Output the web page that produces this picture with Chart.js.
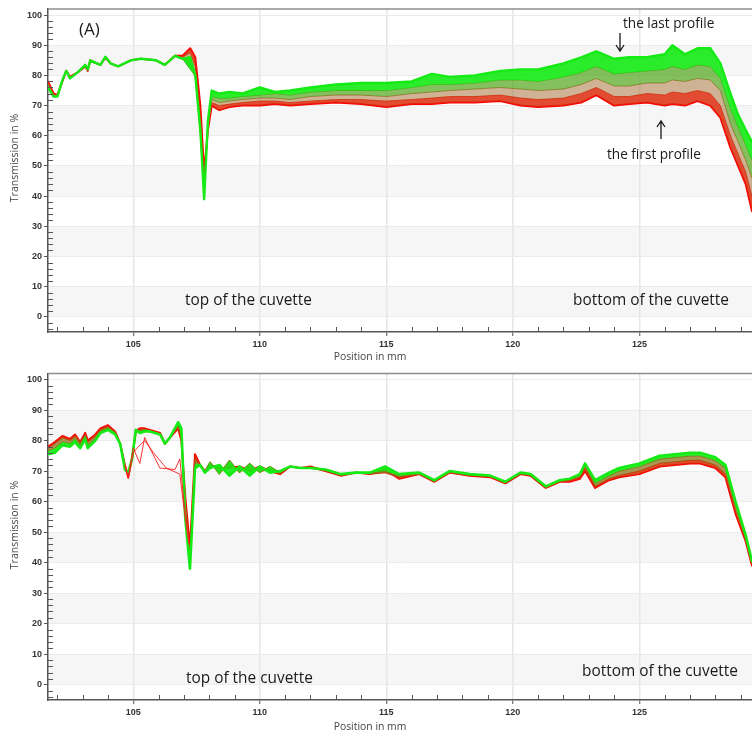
<!DOCTYPE html>
<html>
<head>
<meta charset="utf-8">
<title>Transmission profiles</title>
<script src="https://cdn.jsdelivr.net/npm/chart.js@4.4.1/dist/chart.umd.min.js"></script>
<style>
  html, body { margin: 0; padding: 0; background: #ffffff; }
  .panel { position: absolute; left: 0; width: 752px; height: 366px; }
  #panelA { top: 0; }
  #panelB { top: 366px; }
</style>
</head>
<body>
<div class="panel" id="panelA"><canvas id="chartA"></canvas></div>
<div class="panel" id="panelB"><canvas id="chartB"></canvas></div>
<script>
// ---- axis ticks ----
const Y_TICKS = [0, 10, 20, 30, 40, 50, 60, 70, 80, 90, 100];
const X_TICKS = [105, 110, 115, 120, 125];
const SHADED_BANDS = [[0, 10], [20, 30], [40, 50], [60, 70], [80, 90]];

// ---- panel (A): positions in mm and transmission in % ----
const posA = [101.63,101.85,102.0,102.2,102.35,102.5,102.8,103.1,103.2,103.3,
  103.7,103.9,104.1,104.4,104.9,105.3,105.9,106.25,106.65,106.95,
  107.25,107.45,107.65,107.8,107.95,108.1,108.4,108.8,109.3,110.0,
  110.6,111.2,112.0,113.0,114.0,115.0,116.0,116.8,117.5,118.5,
  119.5,120.3,121.0,122.0,122.7,123.3,124.0,124.6,125.3,126.0,
  126.3,126.8,127.3,127.8,128.2,128.6,128.9,129.2,129.45];

// first profile (red)
const profileA1 = [78,74,73.5,78,81.5,79.5,81,83,81.5,85,
  83.5,86,84,83,85,85.5,85,83.5,86.5,86.5,
  89,86,70,48,62,70,68.5,69.5,70,70,
  70.5,70,70.5,71,70.5,69.5,70.5,70.5,71,71,
  71.5,70,69.5,70,71,73.5,70,70.5,71,70,
  70.5,70,71.5,70,66,56,50,44,35];
const profileA2 = [77.5,73.5,73.5,78,81.5,79.5,81,83,81.5,85,
  83.5,85.5,84,83,85,85.5,85,83.5,86.5,86,
  87.5,83,66,45,62,71,70,70.5,71,71.5,
  71.5,71,71.5,72,72,71.5,72,72.5,73,73,
  73.5,72.5,72,72.5,74,76,73,73,74,73.5,
  74.5,74,75,74,70,60,54,48,40];
const profileA3 = [77,73,73,78,81,79,81,83,82,84.5,
  83.5,86,84,83,85,85.5,85,83.5,86.5,85.5,
  84,79,62,43,63,72,71,71.5,72,72.5,
  72.5,72,73,73.5,73.5,73,74,74.5,75,75.5,
  76,75.5,75,75.5,77,79,76.5,76.5,77.5,77.5,
  78.5,78,79,78.5,75,64,58,52,46];
const profileA4 = [76.5,73,73,78,81.5,79,81,83,82,84.5,
  83.5,86,84,83,85,85.5,85,83.5,86.5,85.5,
  82,80,60,41,64,73,72.5,72.5,73,73.5,
  74,73.5,74.5,75,75,75,76,77,77,77.5,
  78.5,78.5,78,79.5,81,83,80.5,81,81.5,82,
  83,82,83.5,83,79,69,63,57,52];
// last profile (green)
const profileA5 = [76,73,73,78.5,81.5,79,81,83.5,82,85,
  83.5,86.2,84,83,85,85.5,85,83.5,86.5,85.5,
  86,80,62,39,65,75,74,74.5,74,76,
  74.5,75,76,77,77.5,77.5,78,80.5,79.5,80,
  81.5,82,82,84,86,88,85.5,86,86,87,
  90,87,89,89,84,74,67,62,58];

// ---- panel (B) ----
const posB = [101.63,101.9,102.2,102.5,102.7,102.9,103.1,103.2,103.5,103.7,
  104.0,104.28,104.48,104.67,104.8,104.95,105.1,105.26,105.45,105.66,
  106.06,106.25,106.45,106.77,106.9,107.05,107.24,107.44,107.64,107.83,
  108.03,108.4,108.8,109.2,109.6,110.0,110.4,110.8,111.2,111.6,
  112.0,112.6,113.2,113.8,114.35,114.95,115.5,116.3,116.9,117.5,
  118.3,119.1,119.7,120.3,120.7,121.3,121.85,122.25,122.65,122.85,
  123.25,123.8,124.2,125.0,125.8,126.4,127.0,127.4,128.0,128.4,
  128.8,129.2,129.45];

const profileB1 = [78,79.5,81.5,80.5,82,79.5,82.5,80,82,84,
  85,83,79,72,68,74,83,84,84,83.5,
  82.5,79,81,84,80,62,45,75.5,72,70,
  72,71,71,71.5,70,71.5,70,69,71.5,71,
  71.5,70,68.5,69.5,69,70.5,67.5,69,66.5,69.5,
  68.5,68,66,69,68.5,64.5,66.5,66.5,67.5,70,
  64.5,67,68,69,71.5,72,72.5,72.5,71,68,
  56,47,39];
const profileB2 = [77.5,79,81,80,81.5,79.5,82,79.5,81.5,83.5,
  84.5,83,79,72,68.5,74,83,83.5,83.5,83,
  82,79,81,84.5,81,60,43,74,72,70,
  72,70.5,72,70.5,71.5,70,70.5,69,71.5,71,
  71,70,68.5,69.5,69,69.5,68,69,66.5,69.5,
  68.5,68.5,66,69.5,68.5,64.5,66.5,67,68,71,
  65,67.5,68.5,70,72.5,73,73.5,73.5,72,69,
  57,47.5,39.5];
const profileB3 = [76.5,77.5,79.5,79,80.5,78.5,81.5,78.5,80.5,83,
  84,82.5,79,71,69,74,83,83,83.5,83,
  82,79,81,85,82,58,40,72.5,72,70,
  73,69,73.5,69.5,72.5,69.5,71.5,69.5,71.5,71,
  71,70.5,69,69.5,69.5,70,68.5,69.5,67,70,
  69,68.5,66.5,69.5,69,65,67,67.5,68.5,72,
  66,68.5,70,71.5,74,74.5,75,75,73.5,71,
  59,48.5,40];
const profileB4 = [75.5,76,78.5,78,79.5,77.5,80.5,77.5,80,82.5,
  83.5,82,79,70.5,69.5,74,83.5,82.5,83,83,
  82,79,81,86,84,55,38,71,72,69.5,
  71,72,68.5,71.5,68.5,71.5,69.5,70,71.5,71,
  71,70.5,69,69.5,69.5,71.5,69,69.5,67,70,
  69,68.5,66.5,69.5,69,65,67,67.5,69,72.5,
  67,69.5,71,72.5,75,75.5,76,76,74.5,72,
  60,49,40.5];

// two early profiles that stray below the bundle between 105 and 107 mm
const strayPos1 = [104.67,104.8,105.0,105.26,105.45,106.05,106.65,106.84,107.0,107.2];
const strayVal1 = [72,68,77.5,72.5,81,71,70.5,74,60,47];
const strayPos2 = [104.67,104.8,105.0,105.2,105.45,105.8,106.3,106.84,107.0,107.2];
const strayVal2 = [72,67.5,76,78,80,76,71,69,58,46];

// ---- helpers ----
function toPoints(xs, ys) { return xs.map((x, i) => ({ x: x, y: ys[i] })); }
function rgba(c, a) { return 'rgba(' + c[0] + ',' + c[1] + ',' + c[2] + ',' + a + ')'; }

function bundle(pos, profiles, colours, alphas, widths) {
  const n = profiles.length;
  return profiles.map((vals, i) => ({
    data: toPoints(pos, vals),
    borderColor: rgba(colours[i], 1),
    backgroundColor: rgba(colours[i], alphas[i]),
    borderWidth: widths[i],
    fill: i === 0 ? false : '-1',
    order: n - 1 - i,
    pointRadius: 0,
    tension: 0
  }));
}

// background bands, inner minor ticks, frame line and text labels
const decor = {
  id: 'decor',
  beforeDraw(chart) {
    const { ctx, chartArea: a, scales: { y } } = chart;
    ctx.save();
    ctx.fillStyle = '#f6f6f6';
    for (const [lo, hi] of SHADED_BANDS) {
      const t = y.getPixelForValue(hi), b = y.getPixelForValue(lo);
      ctx.fillRect(a.left, t, a.right - a.left, b - t);
    }
    ctx.restore();
  },
  afterDraw(chart, args, o) {
    const { ctx, chartArea: a, scales: { x, y } } = chart;
    ctx.save();
    ctx.strokeStyle = '#8c8c8c';
    ctx.lineWidth = 1.5;
    ctx.beginPath();
    ctx.moveTo(a.left, a.top); ctx.lineTo(a.right, a.top);
    ctx.stroke();

    ctx.strokeStyle = '#555555';
    ctx.lineWidth = 1;
    ctx.beginPath();
    for (let v = -4; v <= 100; v += 2) {
      if (v % 10 === 0) continue;
      const py = Math.round(y.getPixelForValue(v)) + 0.5;
      ctx.moveTo(a.left, py); ctx.lineTo(a.left + 5, py);
    }
    for (let m = 102; m <= 129; m++) {
      if (m % 5 === 0) continue;
      const px = Math.round(x.getPixelForValue(m)) + 0.5;
      ctx.moveTo(px, a.bottom); ctx.lineTo(px, a.bottom - 5);
    }
    ctx.stroke();

    // axis titles
    ctx.fillStyle = '#444444';
    ctx.font = '10.4px "Open Sans"';
    ctx.textAlign = 'center';
    ctx.textBaseline = 'middle';
    ctx.fillText('Position in mm', 370, o.xTitleY);
    ctx.save();
    ctx.translate(15, o.yTitleY);
    ctx.rotate(-Math.PI / 2);
    ctx.font = '10.5px "Open Sans"';
    ctx.fillText('Transmission in %', 0, 0);
    ctx.restore();

    // annotations
    ctx.fillStyle = '#1a1a1a';
    ctx.textAlign = 'left';
    for (const l of o.labels) {
      ctx.font = l.size + 'px "Open Sans"';
      ctx.fillText(l.text, l.x, l.y);
    }
    ctx.strokeStyle = '#1a1a1a';
    ctx.lineWidth = 1.3;
    for (const ar of o.arrows) {
      const dir = ar.y2 > ar.y1 ? 1 : -1;
      ctx.beginPath();
      ctx.moveTo(ar.x, ar.y1); ctx.lineTo(ar.x, ar.y2);
      ctx.moveTo(ar.x - 4, ar.y2 - dir * 6); ctx.lineTo(ar.x, ar.y2); ctx.lineTo(ar.x + 4, ar.y2 - dir * 6);
      ctx.stroke();
    }
    ctx.restore();
  }
};

function makeOptions(padTop, xHeight, decorOpts) {
  const tickFont = { family: '"Liberation Sans", Arial, sans-serif', size: 9, weight: 'bold' };
  return {
    responsive: true,
    maintainAspectRatio: false,
    devicePixelRatio: 1,
    animation: false,
    events: [],
    layout: { padding: { top: padTop, left: 0, right: 0, bottom: 0 } },
    plugins: {
      legend: { display: false },
      tooltip: { enabled: false },
      decor: decorOpts
    },
    elements: { line: { borderJoinStyle: 'round', borderCapStyle: 'round' } },
    scales: {
      x: {
        type: 'linear',
        min: 101.63,
        max: 129.45,
        afterBuildTicks: s => { s.ticks = X_TICKS.map(v => ({ value: v })); },
        afterFit: s => { s.height = xHeight; },
        ticks: { autoSkip: false, maxRotation: 0, padding: 3, color: '#333333', font: tickFont,
                 callback: v => String(v) },
        grid: { color: '#e6e6e6', lineWidth: 1.5, drawTicks: true, tickLength: 4, tickColor: '#555555', tickWidth: 1 },
        border: { display: true, color: '#555555', width: 1.5 }
      },
      y: {
        type: 'linear',
        min: -5,
        max: 102,
        afterBuildTicks: s => { s.ticks = Y_TICKS.map(v => ({ value: v })); },
        afterFit: s => { s.width = 48; },
        ticks: { autoSkip: false, padding: 2, color: '#333333', font: tickFont,
                 callback: v => String(v) },
        grid: { color: '#ebebeb', lineWidth: 1, drawTicks: true, tickLength: 4, tickColor: '#555555', tickWidth: 1 },
        border: { display: true, color: '#555555', width: 1.5 }
      }
    }
  };
}

const coloursA = [[255, 0, 0], [220, 45, 15], [170, 115, 60], [80, 165, 25], [20, 235, 20]];
new Chart(document.getElementById('chartA'), {
  type: 'line',
  data: {
    datasets: bundle(posA, [profileA1, profileA2, profileA3, profileA4, profileA5],
      coloursA, [1, 0.85, 0.55, 0.7, 0.9], [2, 1, 1, 1, 2.4])
  },
  options: makeOptions(9, 34, {
    xTitleY: 357,
    yTitleY: 158,
    labels: [
      { text: '(A)', x: 79, y: 30, size: 17 },
      { text: 'top of the cuvette', x: 185, y: 301, size: 15.4 },
      { text: 'bottom of the cuvette', x: 573, y: 301, size: 15.4 },
      { text: 'the last profile', x: 623, y: 24, size: 13.6 },
      { text: 'the first profile', x: 607, y: 155, size: 13.6 }
    ],
    arrows: [
      { x: 620, y1: 33, y2: 51 },
      { x: 661, y1: 139, y2: 121 }
    ]
  }),
  plugins: [decor]
});

const coloursB = [[255, 0, 0], [215, 50, 12], [140, 115, 25], [20, 235, 20]];
const datasetsB = bundle(posB, [profileB1, profileB2, profileB3, profileB4],
  coloursB, [1, 0.85, 0.75, 0.9], [2, 1.2, 1.2, 2.6]);
[[strayPos1, strayVal1], [strayPos2, strayVal2]].forEach(([p, v]) => {
  datasetsB.push({
    data: toPoints(p, v),
    borderColor: 'rgba(255,30,30,0.9)',
    borderWidth: 1,
    fill: false,
    order: -1,
    pointRadius: 0,
    tension: 0
  });
});

new Chart(document.getElementById('chartB'), {
  type: 'line',
  data: { datasets: datasetsB },
  options: makeOptions(6, 32, {
    xTitleY: 361,
    yTitleY: 159,
    labels: [
      { text: 'top of the cuvette', x: 186, y: 313, size: 15.4 },
      { text: 'bottom of the cuvette', x: 582, y: 306, size: 15.4 }
    ],
    arrows: []
  }),
  plugins: [decor]
});
</script>
</body>
</html>
